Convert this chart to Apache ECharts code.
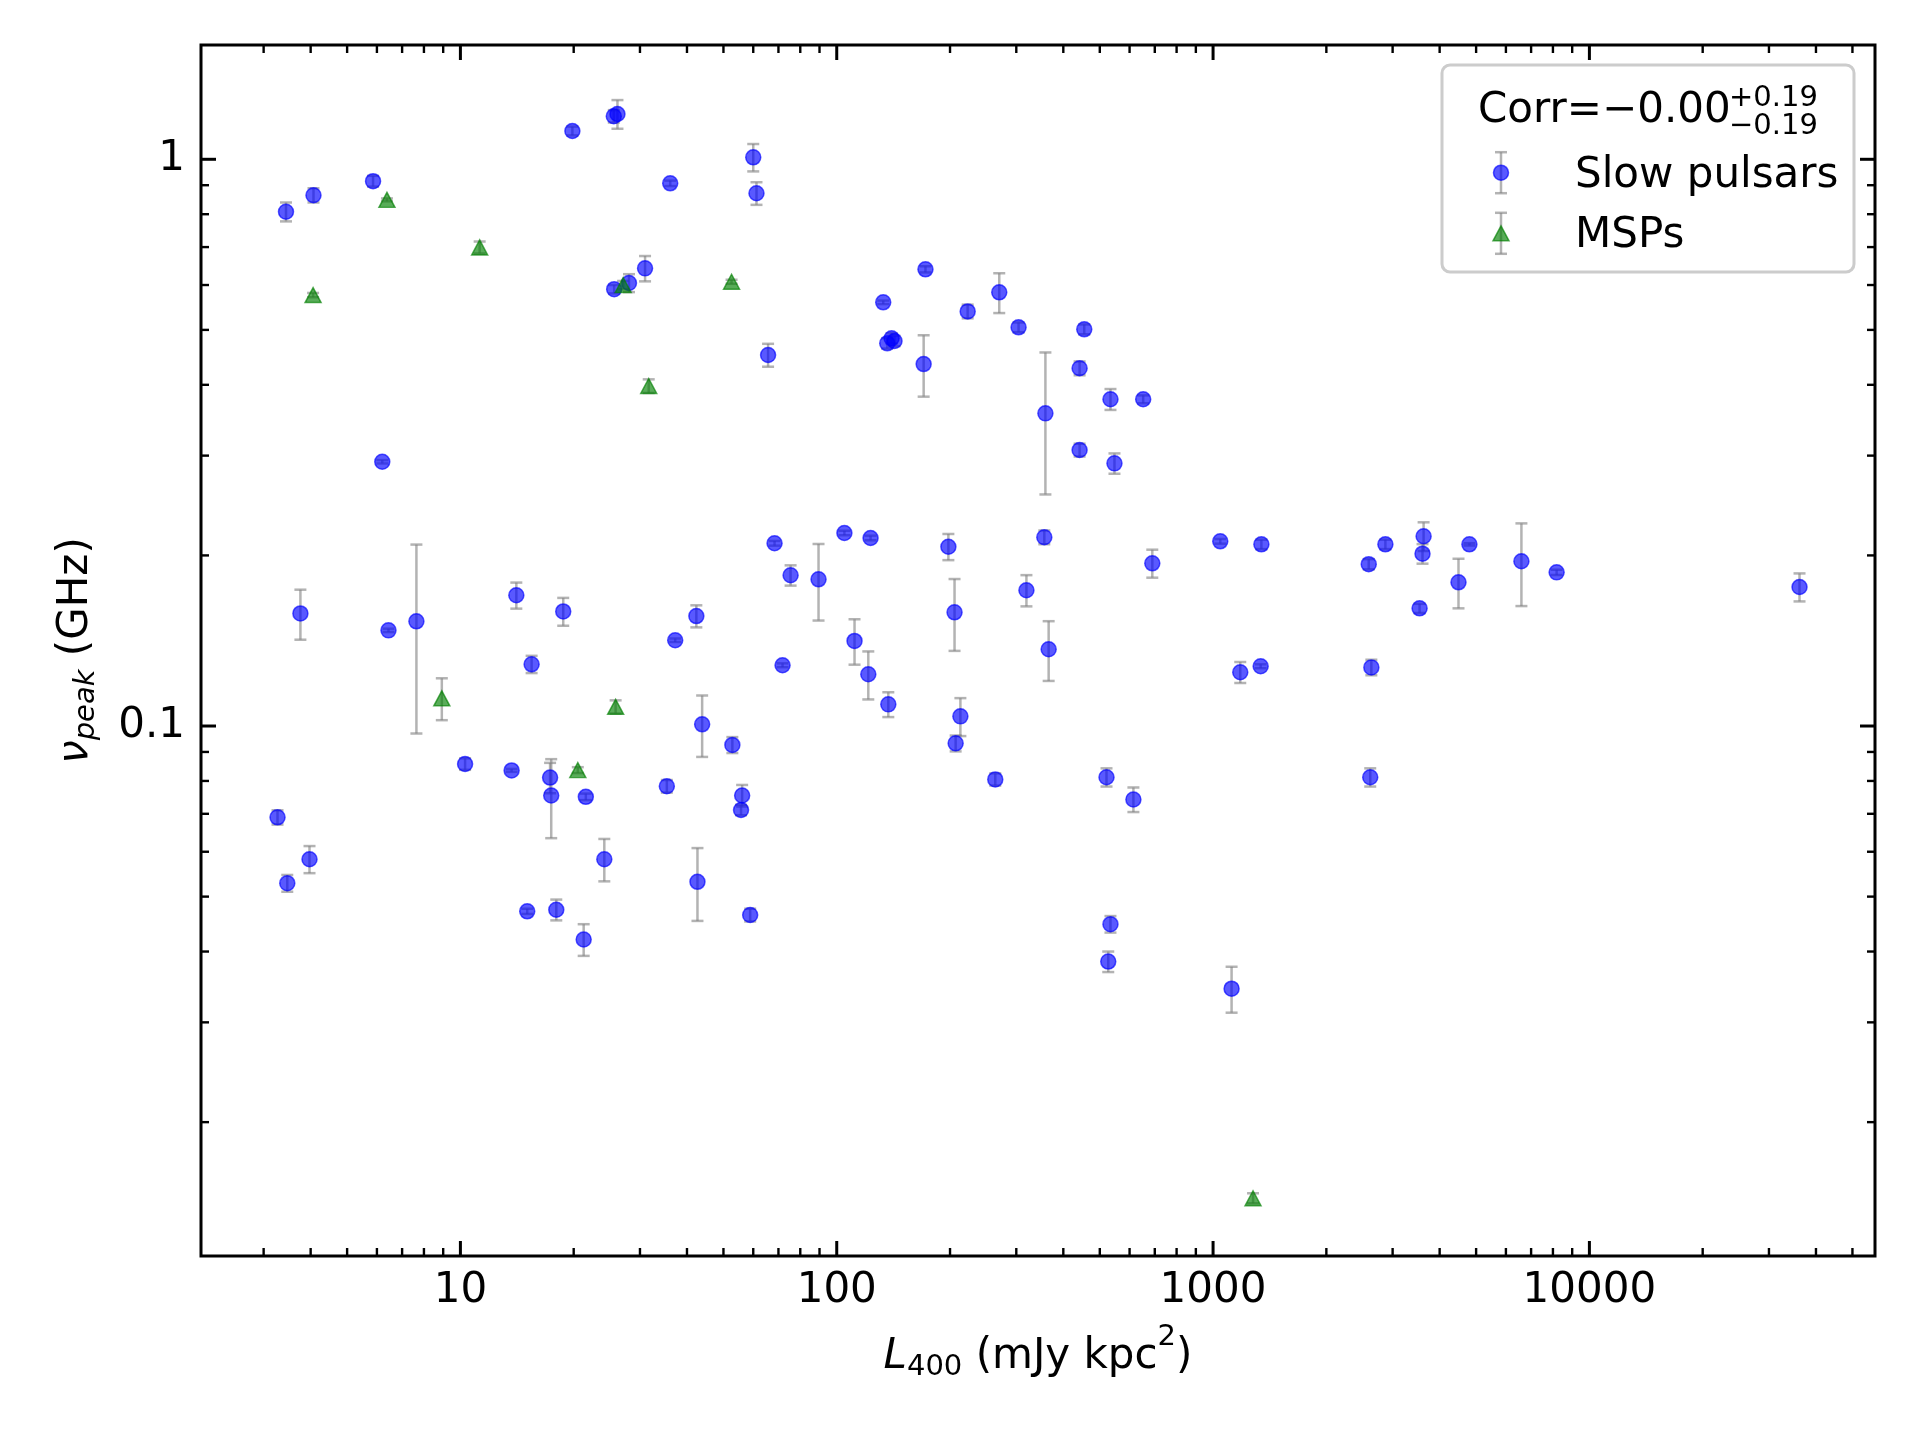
<!DOCTYPE html>
<html>
<head>
<meta charset="utf-8">
<title>L400 vs nu_peak</title>
<script src="https://cdn.jsdelivr.net/npm/echarts@6/dist/echarts.min.js"></script>
<style>
  html, body { margin: 0; padding: 0; background: #fff; }
  #chart { width: 1920px; height: 1440px; }
</style>
</head>
<body>
<div id="chart"></div>
<script>
// slow pulsars: L400 (mJy kpc^2), peak frequency (GHz), error on peak frequency
const slowL = [3.44, 4.07, 5.86, 19.84, 25.56, 26.14, 60.0, 36.1, 61.2, 30.95,
  28.05, 25.62, 65.7, 6.2, 172.1, 132.9, 136.2, 139.9, 142.4, 170.2,
  222.8, 270.3, 304.2, 454.7, 358.5, 441.9, 533.8, 652.1, 441.9, 547,
  3.757, 6.44, 7.64, 14.08, 18.76, 15.46, 42.36, 37.22, 43.89, 52.8,
  10.29, 13.68, 17.31, 17.43, 21.54, 35.36, 56.06, 55.68, 3.266, 3.972,
  24.12, 42.65, 3.467, 15.05, 17.98, 21.26, 58.88, 68.35, 75.4, 89.46,
  104.8, 123.0, 111.5, 121.3, 137.1, 71.78, 198, 205.6, 213.1, 207,
  263.8, 319.2, 356.1, 365.7, 521, 614.2, 689.5, 1045, 1344, 1181,
  1338, 533.8, 526.6, 1120, 2592, 2870, 3626, 3602, 4799, 4489,
  6597, 8183, 3538, 36170, 2634, 2616];
const slowNu = [0.808, 0.864, 0.915, 1.122, 1.191, 1.202, 1.008, 0.907, 0.871, 0.642,
  0.605, 0.590, 0.4515, 0.2926, 0.6395, 0.5593, 0.4735, 0.4832, 0.478, 0.4352,
  0.539, 0.5824, 0.5053, 0.5012, 0.3562, 0.4278, 0.3772, 0.3772, 0.3069, 0.2907,
  0.158, 0.1475, 0.153, 0.1701, 0.1593, 0.1285, 0.1563, 0.1417, 0.1007, 0.0926,
  0.0857, 0.0835, 0.0811, 0.0754, 0.075, 0.0783, 0.0754, 0.0711, 0.069, 0.0582,
  0.0582, 0.0531, 0.0528, 0.0471, 0.0474, 0.042, 0.0464, 0.2101, 0.1845, 0.1815,
  0.2191, 0.2147, 0.1413, 0.1234, 0.1092, 0.128, 0.2072, 0.1587, 0.104, 0.0932,
  0.0805, 0.1736, 0.2153, 0.1366, 0.0812, 0.0742, 0.1937, 0.2118, 0.2092, 0.1244,
  0.1275, 0.0447, 0.0384, 0.0344, 0.193, 0.2092, 0.2162, 0.2014, 0.2092, 0.1793,
  0.1953, 0.1867, 0.1613, 0.1759, 0.1269, 0.0812];
const slowErr = [0.031, 0.025, 0.02, 0.02, 0.03, 0.07, 0.056, 0.01, 0.04, 0.033,
  0.022, 0.01, 0.021, 0.002, 0.008, 0.004, 0.01, 0.01, 0.01, 0.054,
  0.015, 0.047, 0.01, 0.01, 0.10, 0.012, 0.016, 0.006, 0.008, 0.012,
  0.016, 0.001, 0.056, 0.009, 0.009, 0.0045, 0.007, 0.001, 0.0125, 0.003,
  0.002, 0.0005, 0.005, 0.012, 0.001, 0.002, 0.0033, 0.0015, 0.002, 0.0032,
  0.005, 0.0078, 0.0018, 0.0005, 0.002, 0.0027, 0.0012, 0.002, 0.0076, 0.028,
  0.002, 0.002, 0.013, 0.012, 0.0055, 0.001, 0.011, 0.023, 0.008, 0.003,
  0.002, 0.011, 0.006, 0.0165, 0.003, 0.0037, 0.011, 0.002, 0.004, 0.0053,
  0.001, 0.0015, 0.0016, 0.0032, 0.004, 0.004, 0.0126, 0.008, 0.001, 0.018,
  0.0325, 0.002, 0.003, 0.010, 0.004, 0.003];

// millisecond pulsars
const mspL = [6.38, 11.25, 4.06, 27.07, 52.54, 31.65, 8.925, 25.85, 20.51, 1277];
const mspNu = [0.848, 0.699, 0.576, 0.600, 0.608, 0.398, 0.1119, 0.1081, 0.0836, 0.01468];
const mspErr = [0.005, 0.017, 0.005, 0.01, 0.005, 0.011, 0.0095, 0.0029, 0.001, 0.0003];

// ticks (log axes, minor at 2..9 x 10^n)
const xMajorTicks = [10, 100, 1000, 10000];
const xMinorTicks = [3, 4, 5, 6, 7, 8, 9, 20, 30, 40, 50, 60, 70, 80, 90,
  200, 300, 400, 500, 600, 700, 800, 900, 2000, 3000, 4000, 5000, 6000, 7000, 8000, 9000,
  20000, 30000, 40000, 50000];
const yMajorTicks = [0.1, 1];
const yMinorTicks = [0.02, 0.03, 0.04, 0.05, 0.06, 0.07, 0.08, 0.09,
  0.2, 0.3, 0.4, 0.5, 0.6, 0.7, 0.8, 0.9];

const xMin = 2.045, xMax = 57400, yMin = 0.01161, yMax = 1.591;
const corrText = 'Corr=\u22120.00', corrUp = '+0.19', corrDown = '\u22120.19';

const FONT = '"DejaVu Sans", "Liberation Sans", sans-serif';
const ERR_COLOR = 'rgba(128,128,128,0.6)';

const chart = echarts.init(document.getElementById('chart'));

function zip3(a, b, c) {
  return a.map((v, i) => [v, b[i], c[i]]);
}

// error bars with caps
function errSeries(data) {
  return {
    type: 'custom',
    silent: true,
    z: 2,
    data: data,
    renderItem: function (params, api) {
      const x = api.value(0), y = api.value(1), e = api.value(2);
      const top = api.coord([x, y + e]);
      const bot = api.coord([x, y - e]);
      const c = 6;
      const st = { stroke: ERR_COLOR, lineWidth: 2.5 };
      return {
        type: 'group',
        children: [
          { type: 'line', shape: { x1: top[0], y1: top[1], x2: bot[0], y2: bot[1] }, style: st },
          { type: 'line', shape: { x1: top[0] - c, y1: top[1], x2: top[0] + c, y2: top[1] }, style: st },
          { type: 'line', shape: { x1: bot[0] - c, y1: bot[1], x2: bot[0] + c, y2: bot[1] }, style: st }
        ]
      };
    }
  };
}

// inward ticks on all four sides
function tickSeries(values, axis, len, width) {
  return {
    type: 'custom',
    silent: true,
    z: 6,
    clip: false,
    data: values.map(v => axis === 'x' ? [v, 1] : [100, v]),
    renderItem: function (params, api) {
      const cs = params.coordSys;
      const p = api.coord([api.value(0), api.value(1)]);
      const st = { stroke: '#000', lineWidth: width };
      if (axis === 'x') {
        const yb = cs.y + cs.height, yt = cs.y;
        return { type: 'group', children: [
          { type: 'line', shape: { x1: p[0], y1: yb, x2: p[0], y2: yb - len }, style: st },
          { type: 'line', shape: { x1: p[0], y1: yt, x2: p[0], y2: yt + len }, style: st }
        ] };
      }
      const xl = cs.x, xr = cs.x + cs.width;
      return { type: 'group', children: [
        { type: 'line', shape: { x1: xl, y1: p[1], x2: xl + len, y2: p[1] }, style: st },
        { type: 'line', shape: { x1: xr, y1: p[1], x2: xr - len, y2: p[1] }, style: st }
      ] };
    }
  };
}

function decadeLabel(v) {
  const l = Math.log10(v);
  if (Math.abs(l - Math.round(l)) > 1e-6) return '';
  return String(Number(v.toPrecision(8)));
}

const legendX = 1501;
function legendBar(cy, half) {
  const st = { stroke: ERR_COLOR, lineWidth: 2.5 };
  return [
    { type: 'line', z: 101, shape: { x1: legendX, y1: cy - half, x2: legendX, y2: cy + half }, style: st },
    { type: 'line', z: 101, shape: { x1: legendX - 6, y1: cy - half, x2: legendX + 6, y2: cy - half }, style: st },
    { type: 'line', z: 101, shape: { x1: legendX - 6, y1: cy + half, x2: legendX + 6, y2: cy + half }, style: st }
  ];
}

const option = {
  backgroundColor: '#fff',
  animation: false,
  grid: {
    left: 201, right: 45, top: 45, bottom: 184,
    show: true, borderColor: '#000', borderWidth: 3, backgroundColor: 'transparent'
  },
  xAxis: {
    type: 'log', logBase: 10, min: xMin, max: xMax,
    axisLine: { show: false }, axisTick: { show: false }, splitLine: { show: false },
    axisLabel: {
      formatter: decadeLabel, margin: 14, color: '#000',
      fontFamily: FONT, fontSize: 42
    },
    name: '{i|L}{sub|400}{n| (mJy kpc}{sup|2}{n|)}',
    nameLocation: 'middle', nameGap: 67,
    nameTextStyle: {
      fontFamily: FONT, fontSize: 42, color: '#000',
      rich: {
        i: { fontFamily: FONT, fontSize: 42, fontStyle: 'italic', color: '#000' },
        n: { fontFamily: FONT, fontSize: 42, color: '#000' },
        sub: { fontFamily: FONT, fontSize: 29, color: '#000', padding: [20, 0, 0, 0] },
        sup: { fontFamily: FONT, fontSize: 29, color: '#000', padding: [0, 0, 40, 0] }
      }
    }
  },
  yAxis: {
    type: 'log', logBase: 10, min: yMin, max: yMax,
    axisLine: { show: false }, axisTick: { show: false }, splitLine: { show: false },
    axisLabel: {
      formatter: decadeLabel, margin: 16, color: '#000',
      fontFamily: FONT, fontSize: 42
    },
    name: '{i|\u03bd}{sub|peak}{n| (GHz)}',
    nameLocation: 'middle', nameGap: 100, nameRotate: 90,
    nameTextStyle: {
      fontFamily: FONT, fontSize: 42, color: '#000',
      rich: {
        i: { fontFamily: FONT, fontSize: 42, fontStyle: 'italic', color: '#000' },
        n: { fontFamily: FONT, fontSize: 42, color: '#000' },
        sub: { fontFamily: FONT, fontSize: 29, fontStyle: 'italic', color: '#000', padding: [20, 0, 0, 0] }
      }
    }
  },
  series: [
    errSeries(zip3(slowL, slowNu, slowErr)),
    {
      name: 'Slow pulsars', type: 'scatter', z: 3,
      symbol: 'circle', symbolSize: 15,
      itemStyle: { color: 'blue', borderColor: 'blue', borderWidth: 1.5, opacity: 0.65 },
      data: slowL.map((v, i) => [v, slowNu[i]])
    },
    errSeries(zip3(mspL, mspNu, mspErr)),
    {
      name: 'MSPs', type: 'scatter', z: 4,
      symbol: 'triangle', symbolSize: [16, 15],
      itemStyle: { color: 'green', borderColor: 'green', borderWidth: 1.5, opacity: 0.65 },
      data: mspL.map((v, i) => [v, mspNu[i]])
    },
    tickSeries(xMajorTicks, 'x', 15, 3),
    tickSeries(xMinorTicks, 'x', 8, 2.4),
    tickSeries(yMajorTicks, 'y', 15, 3),
    tickSeries(yMinorTicks, 'y', 8, 2.4)
  ],
  graphic: [
    { type: 'rect', z: 100, shape: { x: 1442, y: 65, width: 412, height: 207, r: 8 },
      style: { fill: 'rgba(255,255,255,0.8)', stroke: '#cccccc', lineWidth: 3 } },
    { type: 'text', z: 101, x: 1478, y: 111.5,
      style: { text: corrText, fontFamily: FONT, fontSize: 42, fill: '#000', align: 'left', verticalAlign: 'middle' } },
    { type: 'text', z: 101, x: 1729, y: 98.5,
      style: { text: corrUp, fontFamily: FONT, fontSize: 29, fill: '#000', align: 'left', verticalAlign: 'middle' } },
    { type: 'text', z: 101, x: 1729, y: 126.5,
      style: { text: corrDown, fontFamily: FONT, fontSize: 29, fill: '#000', align: 'left', verticalAlign: 'middle' } },
    ...legendBar(172.7, 20.5),
    { type: 'circle', z: 102, shape: { cx: legendX, cy: 172.7, r: 7.5 },
      style: { fill: 'blue', stroke: 'blue', lineWidth: 1.5, opacity: 0.65 } },
    { type: 'text', z: 101, x: 1575, y: 176.5,
      style: { text: 'Slow pulsars', fontFamily: FONT, fontSize: 42, fill: '#000', align: 'left', verticalAlign: 'middle' } },
    ...legendBar(233.3, 20.5),
    { type: 'polygon', z: 102,
      shape: { points: [[legendX, 225.8], [legendX - 8, 240.8], [legendX + 8, 240.8]] },
      style: { fill: 'green', stroke: 'green', lineWidth: 1.5, opacity: 0.65 } },
    { type: 'text', z: 101, x: 1575, y: 236.5,
      style: { text: 'MSPs', fontFamily: FONT, fontSize: 42, fill: '#000', align: 'left', verticalAlign: 'middle' } }
  ]
};

chart.setOption(option);
</script>
</body>
</html>
